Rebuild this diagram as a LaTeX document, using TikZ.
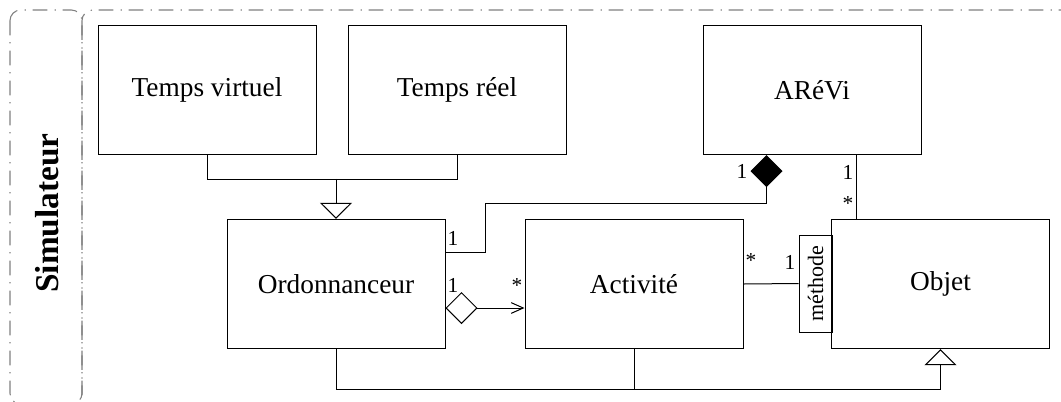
\documentclass[tikz,border=0pt]{standalone}
\usepackage{fontspec}
\setmainfont{Liberation Serif}
\usetikzlibrary{arrows.meta,calc}

\tikzset{
  classe/.style={draw, line width=0.75pt, minimum width=163.5pt, minimum height=97pt, inner sep=0pt, font=\fontsize{20.5}{24}\selectfont},
  lien/.style={line width=0.75pt},
  mult/.style={font=\fontsize{16}{18}\selectfont, inner sep=0pt},
  cadre/.style={draw=gray, line width=0.8pt, rounded corners=8pt, dash pattern=on 11pt off 5pt on 1pt off 5.5pt},
  herite/.style={-{Triangle[open,width=24pt,length=12pt]}},
}

\begin{document}
\begin{tikzpicture}[x=0.75pt,y=-0.75pt]
        \useasboundingbox (0,0) rectangle (1061,401);

        % Draw the frames
        \begin{scope}
            \clip (0,0) rectangle (1061,401);
            \draw[cadre] (10,10) rectangle (82,404);
            \draw[cadre] (82,10) rectangle (1090,440);
        \end{scope}
        \node[rotate=90, font=\fontsize{25}{30}\selectfont\bfseries] (simu) at (47,213) {Simulateur};

        % Add the classes
        \node[classe] (virtuel) at (207,90) {Temps virtuel};
        \node[classe] (reel) at (457,90) {Temps réel};
        \node[classe] (arevi) at (812,90) {ARéVi};
        \node[classe] (ordo) at (336,284) {Ordonnanceur};
        \node[classe] (activite) at (634,284) {Activité};
        \node[classe] (objet) at (940.5,284) {Objet};
        \node[draw, line width=0.75pt, rotate=90, minimum width=72.75pt, minimum height=24.75pt, inner sep=0pt,
              font=\fontsize{16.5}{18}\selectfont] (methode) at (815.5,283.5) {méthode};
        \coordinate (haut) at ($(arevi.south east)+(-65,0)$);

        % Draw the links
        \draw[lien] (virtuel.south) -- ++(0,24) -| (reel.south);
        \draw[lien, herite] (ordo.north) ++(0,-40) -- (ordo.north);
        \draw[lien, -{Diamond[width=24pt,length=24pt]}] ($(ordo.east)+(0,-32)$) -- ++(40,0)
            |- ($(arevi.south west)+(64,48)$) -- ($(arevi.south west)+(64,0)$);
        \draw[lien, {Diamond[open,width=24pt,length=24pt]}-{Straight Barb[length=9pt,width=8pt]}]
            ($(ordo.east)+(0,24)$) -- ($(activite.west)+(0,24)$);
        \draw[lien] (activite.east) -- (methode.north);
        \draw[lien] (haut) -- (haut |- objet.north);
        \draw[lien, herite] (ordo.south) -- ++(0,40) -| (objet.south);
        \draw[lien] (activite.south) -- ++(0,40);

        % Add the multiplicities
        \node[mult] (m1) at (453,238) {1};
        \node[mult] (m2) at (742,171) {1};
        \node[mult] (m3) at (453,285) {1};
        \node[mult] (m4) at (517,286) {*};
        \node[mult] (m5) at (751,261) {*};
        \node[mult] (m6) at (790,262) {1};
        \node[mult] (m7) at (848,172) {1};
        \node[mult] (m8) at (848,204) {*};
    \end{tikzpicture}
\end{document}
